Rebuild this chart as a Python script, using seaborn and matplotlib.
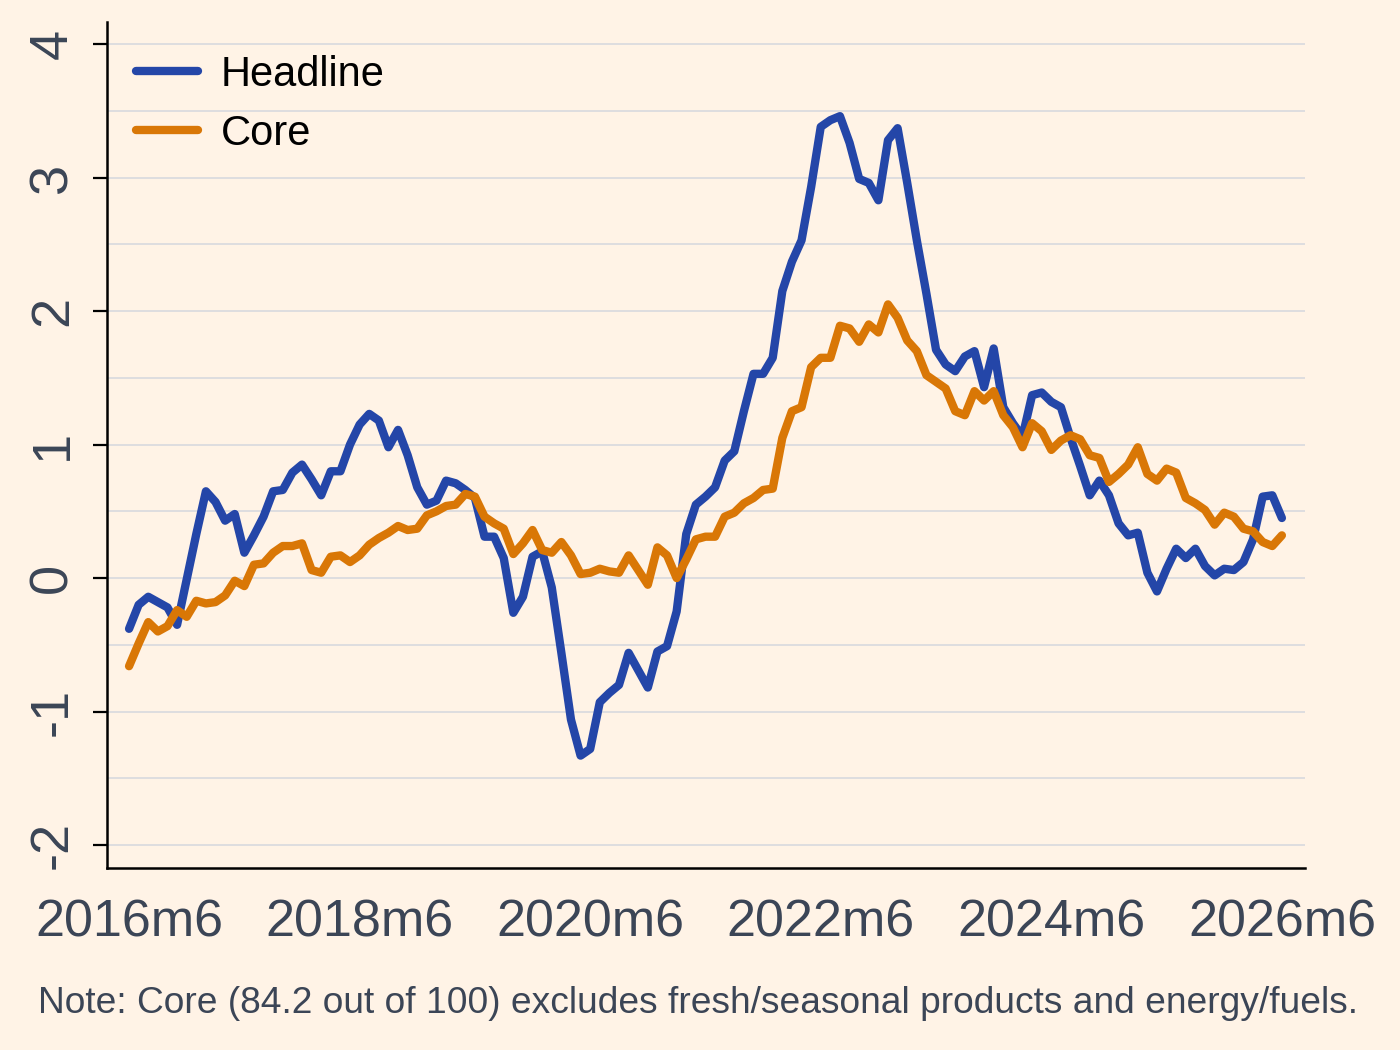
import numpy as np
import pandas as pd
import seaborn as sns
import matplotlib.pyplot as plt
from matplotlib.ticker import MultipleLocator

# monthly series, 2016m6 .. 2026m6
headline = [-0.38, -0.20, -0.14, -0.18, -0.22, -0.35, -0.01, 0.33, 0.65, 0.57,
            0.43, 0.48, 0.19, 0.32, 0.46, 0.65, 0.66, 0.79, 0.85, 0.74,
            0.62, 0.80, 0.80, 1.00, 1.15, 1.23, 1.18, 0.98, 1.11, 0.92,
            0.68, 0.55, 0.58, 0.73, 0.71, 0.66, 0.60, 0.31, 0.31, 0.15,
            -0.26, -0.14, 0.16, 0.20, -0.07, -0.56, -1.06, -1.33, -1.28, -0.93,
            -0.86, -0.80, -0.56, -0.69, -0.82, -0.55, -0.51, -0.25, 0.33, 0.55,
            0.61, 0.68, 0.88, 0.95, 1.25, 1.53, 1.53, 1.65, 2.15, 2.37,
            2.53, 2.93, 3.38, 3.43, 3.46, 3.26, 2.99, 2.96, 2.83, 3.28,
            3.37, 2.96, 2.53, 2.13, 1.71, 1.60, 1.55, 1.66, 1.70, 1.43,
            1.72, 1.28, 1.16, 1.06, 1.37, 1.39, 1.32, 1.28, 1.05, 0.84,
            0.62, 0.73, 0.62, 0.41, 0.32, 0.34, 0.04, -0.10, 0.07, 0.22,
            0.15, 0.22, 0.09, 0.02, 0.07, 0.06, 0.12, 0.29, 0.61, 0.62,
            0.45]
core = [-0.66, -0.49, -0.33, -0.40, -0.36, -0.24, -0.29, -0.17, -0.19, -0.18,
        -0.13, -0.02, -0.06, 0.10, 0.11, 0.19, 0.24, 0.24, 0.26, 0.06,
        0.04, 0.16, 0.17, 0.12, 0.17, 0.25, 0.30, 0.34, 0.39, 0.36,
        0.37, 0.47, 0.50, 0.54, 0.55, 0.63, 0.61, 0.46, 0.41, 0.37,
        0.18, 0.26, 0.36, 0.21, 0.19, 0.27, 0.17, 0.03, 0.04, 0.07,
        0.05, 0.04, 0.17, 0.06, -0.05, 0.23, 0.17, 0.00, 0.14, 0.29,
        0.31, 0.31, 0.46, 0.49, 0.56, 0.60, 0.66, 0.67, 1.05, 1.25,
        1.28, 1.58, 1.65, 1.65, 1.89, 1.87, 1.77, 1.90, 1.84, 2.05,
        1.95, 1.78, 1.70, 1.52, 1.47, 1.42, 1.25, 1.22, 1.40, 1.33,
        1.40, 1.22, 1.13, 0.98, 1.16, 1.10, 0.96, 1.03, 1.07, 1.04,
        0.92, 0.90, 0.72, 0.78, 0.85, 0.98, 0.78, 0.73, 0.82, 0.79,
        0.60, 0.56, 0.51, 0.40, 0.49, 0.46, 0.37, 0.35, 0.27, 0.24,
        0.32]
tick_labels = ["2016m6", "2018m6", "2020m6", "2022m6", "2024m6", "2026m6"]
note = "Note: Core (84.2 out of 100) excludes fresh/seasonal products and energy/fuels."

months = np.arange(len(headline))
df = pd.DataFrame({
    "month": np.concatenate([months, months]),
    "value": headline + core,
    "series": ["Headline"] * len(headline) + ["Core"] * len(core),
})

bg = "#fff3e6"
txt = "#3b4556"
sns.set_theme(style="white")
plt.rcParams['font.family'] = ['Liberation Sans', 'DejaVu Sans']
plt.rcParams['axes.unicode_minus'] = False

fig = plt.figure(figsize=(14, 10.5), dpi=100, facecolor=bg)
ax = fig.add_axes([0.0764, 0.1733, 0.8557, 0.8057])
ax.set_facecolor(bg)

sns.lineplot(data=df, x="month", y="value", hue="series", ax=ax,
             palette={"Headline": "#2446a8", "Core": "#d97706"},
             linewidth=6, legend=True)

ax.set_xlim(-2.3, 122.4)
ax.set_ylim(-2.172, 4.165)
ax.yaxis.set_major_locator(MultipleLocator(1))
ax.yaxis.set_minor_locator(MultipleLocator(0.5))
ax.grid(axis="y", which="both", color="#d8d9de", linewidth=1.2)
ax.set_axisbelow(True)

ax.set_xticks(np.arange(0, 121, 24))
ax.set_xticklabels(tick_labels)
ax.set_xticks(np.arange(12, 121, 24), minor=True)
ax.tick_params(axis="x", which="major", length=10, width=1.6, color="black",
               labelsize=37.5, labelcolor=txt, pad=12)
ax.tick_params(axis="x", which="minor", length=5, width=1.6, color="black")
ax.tick_params(axis="y", which="major", length=10, width=1.6, color="black",
               labelsize=39, labelcolor=txt, pad=11, left=True)
ax.tick_params(axis="y", which="minor", length=0)
for lab in ax.get_yticklabels():
    lab.set_rotation(90)
    lab.set_va("center")

for s in ["top", "right"]:
    ax.spines[s].set_visible(False)
for s in ["left", "bottom"]:
    ax.spines[s].set_color("black")
    ax.spines[s].set_linewidth(1.8)

ax.set_xlabel("")
ax.set_ylabel("")

leg = ax.legend(loc="upper left", frameon=False, fontsize=30,
                handlelength=1.5, handletextpad=0.55, labelspacing=0.45,
                borderaxespad=0, bbox_to_anchor=(0.01, 0.981))
for line in leg.get_lines():
    line.set_linewidth(6)
for t in leg.get_texts():
    t.set_color("black")

fig.text(0.027, 0.044, note, fontsize=26.7, color=txt, ha="left", va="center")

fig.savefig("out.png", dpi=100, facecolor=bg)
